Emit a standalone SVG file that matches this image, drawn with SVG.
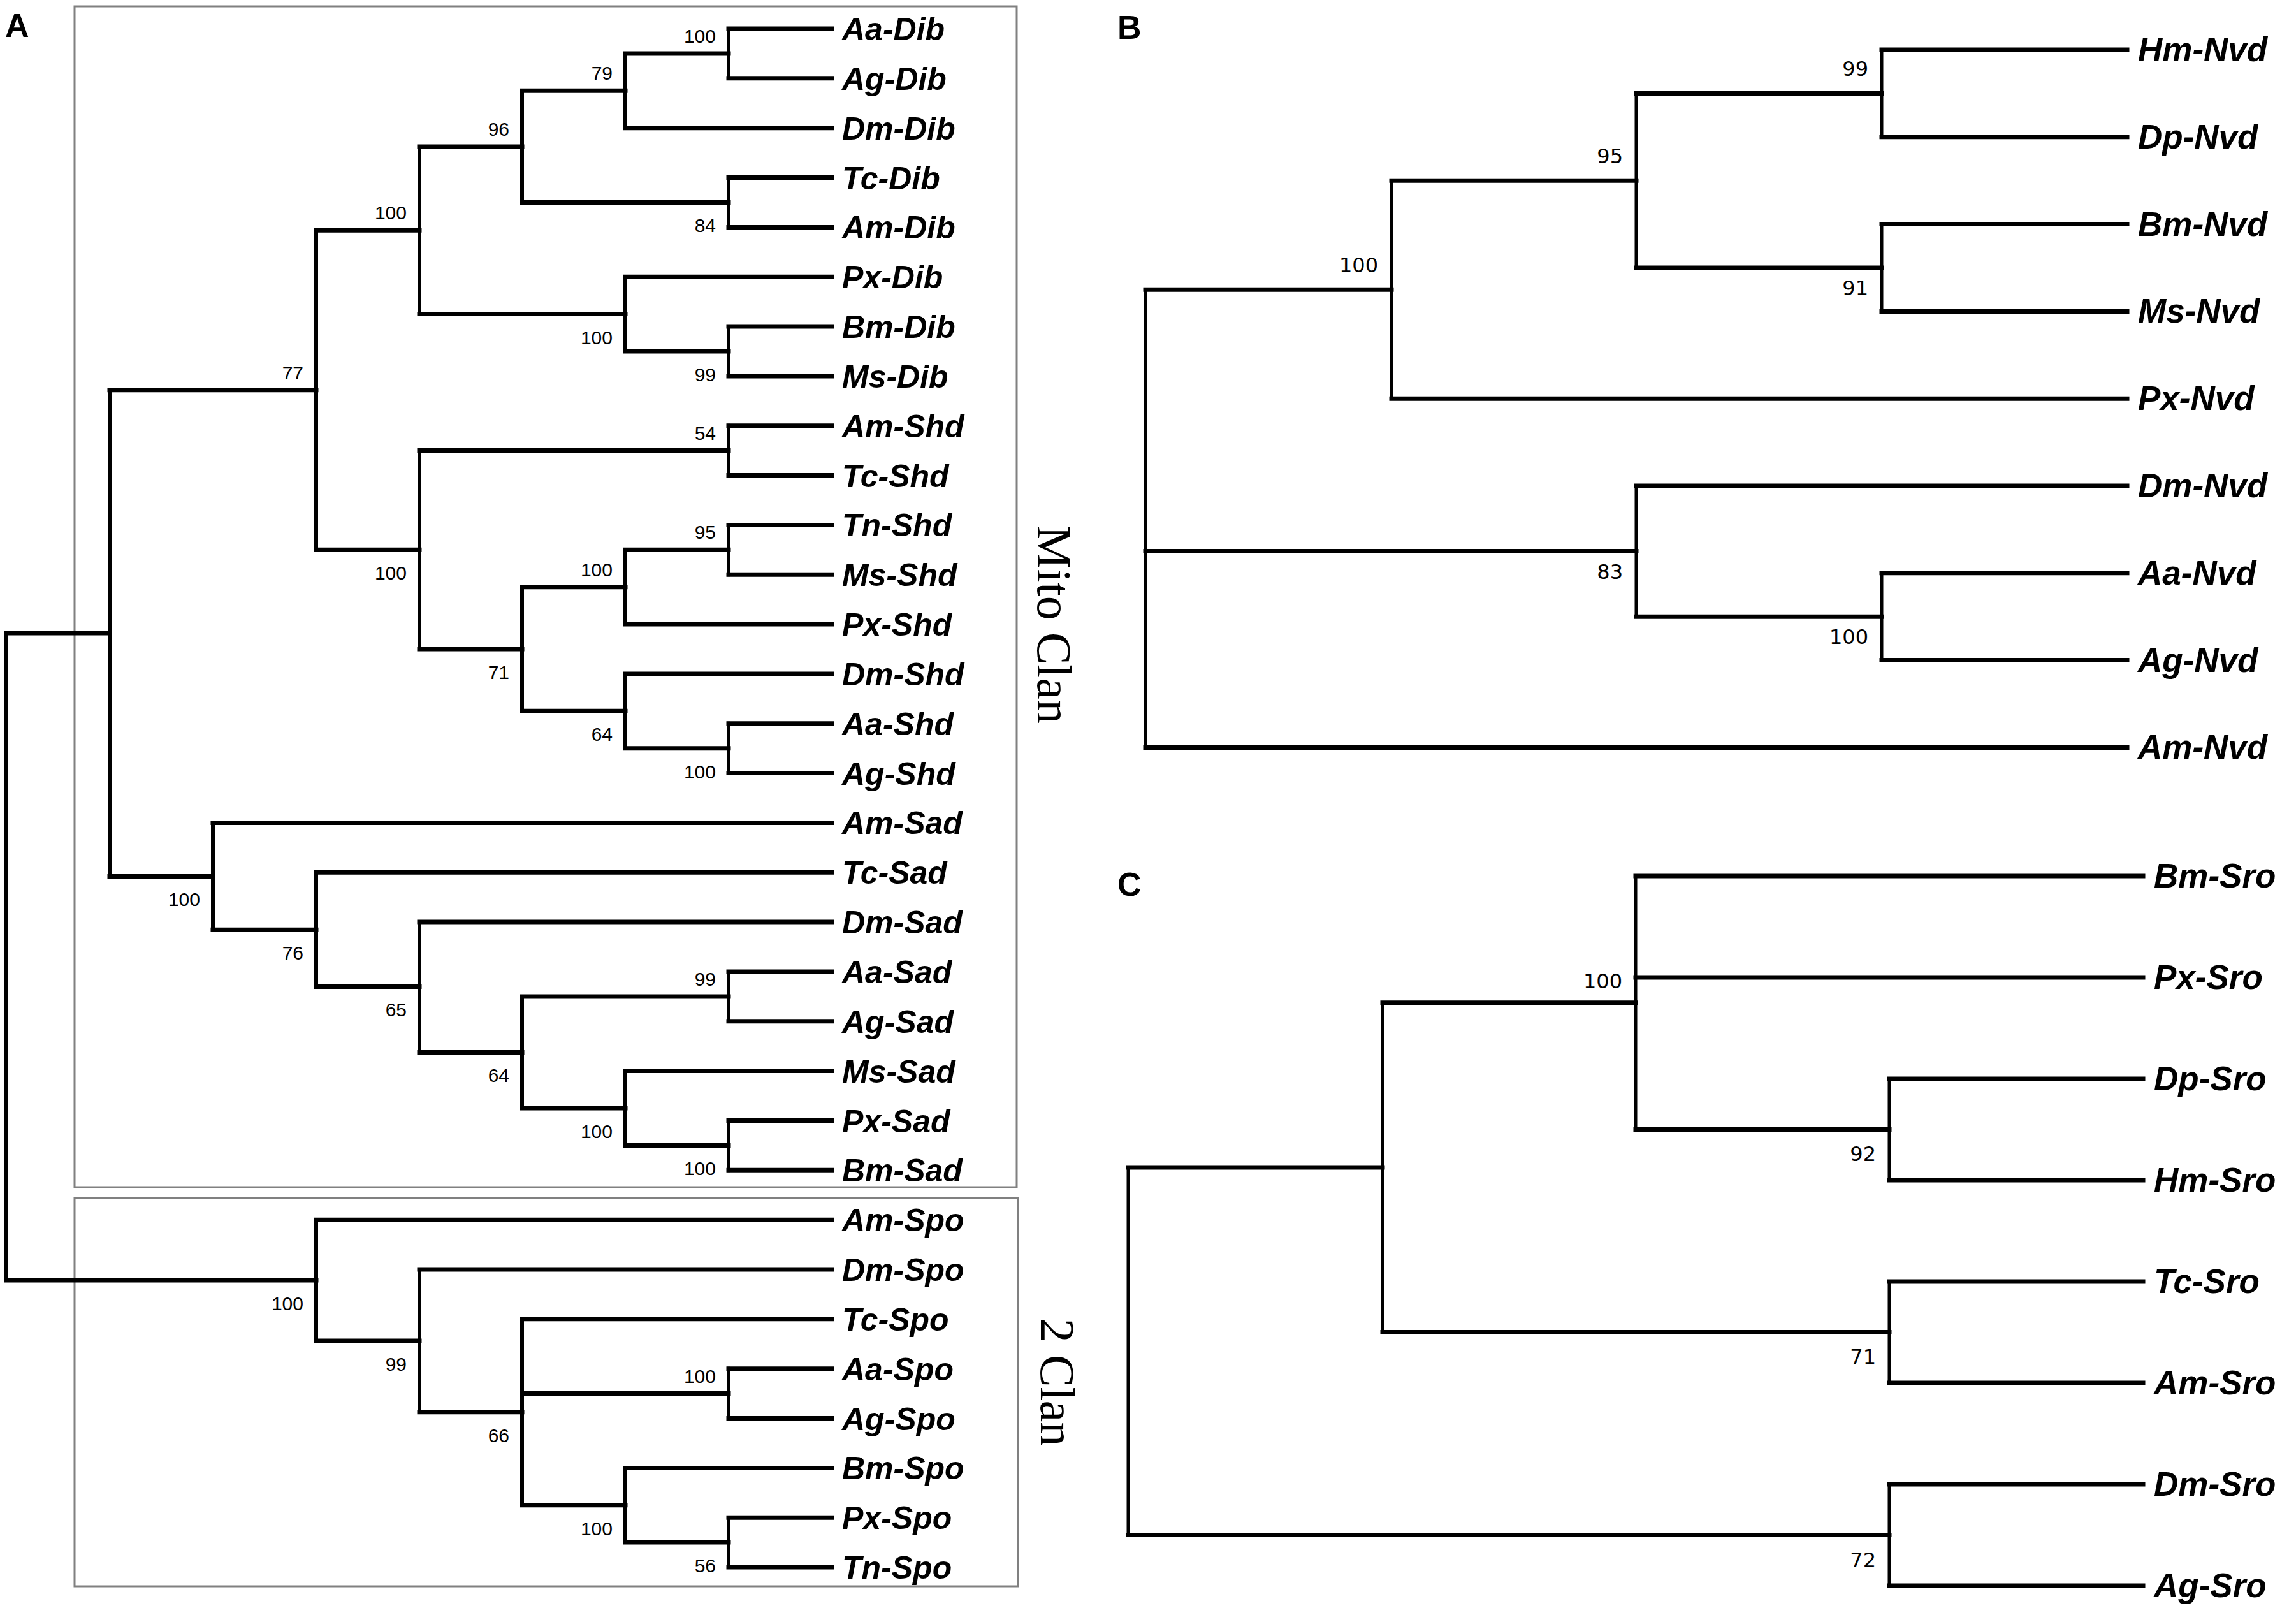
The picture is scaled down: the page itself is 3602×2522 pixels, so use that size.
<svg xmlns="http://www.w3.org/2000/svg" width="3602" height="2522" viewBox="0 0 3602 2522">
<style>
.e{stroke:#000;stroke-width:7;fill:none;stroke-linecap:square}
.va{stroke:#000;stroke-width:6;fill:none;stroke-linecap:square}
.v2{stroke:#000;stroke-width:5;fill:none;stroke-linecap:square}
.box{fill:none;stroke:#808080;stroke-width:3}
.lf{font-family:"Liberation Sans",Arial,sans-serif;font-weight:bold;font-style:italic;font-size:50px;fill:#000}
.lf2{font-family:"Liberation Sans",Arial,sans-serif;font-weight:bold;font-style:italic;font-size:53px;fill:#000}
.bs{font-family:"Liberation Sans",Arial,sans-serif;font-size:30px;text-anchor:end;fill:#000}
.bs2{font-family:"DejaVu Sans",Verdana,sans-serif;font-size:32px;text-anchor:end;fill:#000}
.clan{font-family:"Liberation Serif","Times New Roman",serif;font-size:76px;fill:#000;text-anchor:middle}
.pl{font-family:"Liberation Sans",Arial,sans-serif;font-weight:bold;font-size:52px;fill:#000}
</style>
<rect width="3602" height="2522" fill="#fff"/>
<g id="panel-letters">
<text class="pl" x="8" y="58">A</text>
<text class="pl" x="1753" y="61">B</text>
<text class="pl" x="1753" y="1405">C</text>
</g>
<g id="clan-boxes">
<rect class="box" x="117" y="10" width="1478" height="1852"/>
<rect class="box" x="117" y="1879" width="1480" height="609"/>
<text class="clan" transform="translate(1628,980) rotate(90)">Mito Clan</text>
<text class="clan" transform="translate(1633,2168) rotate(90)">2 Clan</text>
</g>
<g id="connectors">
<path class="va" d="M10 993.1V2008M172 611.8V1374.4M496 361.2V862.3M658 229.9V492.6M819 142.3V317.4M981 83.9V200.7M1143 45V122.8M1143 278.5V356.4M981 434.2V551M1143 512V589.9M658 706.6V1018M1143 667.7V745.6M819 920.7V1115.3M981 862.3V979.1M1143 823.4V901.2M981 1056.9V1173.7M1143 1134.8V1212.6M334 1290.4V1458.3M496 1368.3V1547.4M658 1446.1V1650.5M819 1562.9V1738M1143 1524V1601.8M981 1679.6V1796.4M1143 1757.5V1835.3M496 1913.2V2102.9M658 1991V2214.8M819 2068.8V2360.7M1143 2146.7V2224.5M981 2302.4V2419.1M1143 2380.2V2458"/>
<path class="e" d="M10 993.1H172M10 2008H496M172 611.8H496M172 1374.4H334M496 361.2H658M496 862.3H658M658 229.9H819M658 492.6H981M819 142.3H981M819 317.4H1143M981 83.9H1143M981 200.7H1305M1143 45H1305M1143 122.8H1305M1143 278.5H1305M1143 356.4H1305M981 434.2H1305M981 551H1143M1143 512H1305M1143 589.9H1305M658 706.6H1143M658 1018H819M1143 667.7H1305M1143 745.6H1305M819 920.7H981M819 1115.3H981M981 862.3H1143M981 979.1H1305M1143 823.4H1305M1143 901.2H1305M981 1056.9H1305M981 1173.7H1143M1143 1134.8H1305M1143 1212.6H1305M334 1290.4H1305M334 1458.3H496M496 1368.3H1305M496 1547.4H658M658 1446.1H1305M658 1650.5H819M819 1562.9H1143M819 1738H981M1143 1524H1305M1143 1601.8H1305M981 1679.6H1305M981 1796.4H1143M1143 1757.5H1305M1143 1835.3H1305M496 1913.2H1305M496 2102.9H658M658 1991H1305M658 2214.8H819M819 2068.8H1305M819 2185.6H1143M819 2360.7H981M1143 2146.7H1305M1143 2224.5H1305M981 2302.4H1305M981 2419.1H1143M1143 2380.2H1305M1143 2458H1305"/>
<path class="v2" d="M1797 454.2V1172.4M2183 283.2V625.2M2567 146.4V420M2952 78V214.8M2952 351.6V488.4M2567 762V967.2M2952 898.8V1035.6"/>
<path class="e" d="M1797 454.2H2183M1797 864.6H2567M1797 1172.4H3337M2183 283.2H2567M2183 625.2H3337M2567 146.4H2952M2567 420H2952M2952 78H3337M2952 214.8H3337M2952 351.6H3337M2952 488.4H3337M2567 762H3337M2567 967.2H2952M2952 898.8H3337M2952 1035.6H3337"/>
<path class="v2" d="M1770 1831.1V2407.5M2169 1572.75V2089.5M2566 1374V1771.5M2964 1692V1851M2964 2010V2169M2964 2328V2487"/>
<path class="e" d="M1770 1831.1H2169M1770 2407.5H2964M2169 1572.75H2566M2169 2089.5H2964M2566 1374H3362M2566 1533H3362M2566 1771.5H2964M2964 1692H3362M2964 1851H3362M2964 2010H3362M2964 2169H3362M2964 2328H3362M2964 2487H3362"/>
</g>
<g id="tree-A-leaves">
<g id="Aa-Dib"><text class="lf" x="1321" y="63">Aa-Dib</text></g>
<g id="Ag-Dib"><text class="lf" x="1321" y="140.8">Ag-Dib</text></g>
<g id="Dm-Dib"><text class="lf" x="1321" y="218.7">Dm-Dib</text></g>
<g id="Tc-Dib"><text class="lf" x="1321" y="296.5">Tc-Dib</text></g>
<g id="Am-Dib"><text class="lf" x="1321" y="374.4">Am-Dib</text></g>
<g id="Px-Dib"><text class="lf" x="1321" y="452.2">Px-Dib</text></g>
<g id="Bm-Dib"><text class="lf" x="1321" y="530">Bm-Dib</text></g>
<g id="Ms-Dib"><text class="lf" x="1321" y="607.9">Ms-Dib</text></g>
<g id="Am-Shd"><text class="lf" x="1321" y="685.7">Am-Shd</text></g>
<g id="Tc-Shd"><text class="lf" x="1321" y="763.6">Tc-Shd</text></g>
<g id="Tn-Shd"><text class="lf" x="1321" y="841.4">Tn-Shd</text></g>
<g id="Ms-Shd"><text class="lf" x="1321" y="919.2">Ms-Shd</text></g>
<g id="Px-Shd"><text class="lf" x="1321" y="997.1">Px-Shd</text></g>
<g id="Dm-Shd"><text class="lf" x="1321" y="1074.9">Dm-Shd</text></g>
<g id="Aa-Shd"><text class="lf" x="1321" y="1152.8">Aa-Shd</text></g>
<g id="Ag-Shd"><text class="lf" x="1321" y="1230.6">Ag-Shd</text></g>
<g id="Am-Sad"><text class="lf" x="1321" y="1308.4">Am-Sad</text></g>
<g id="Tc-Sad"><text class="lf" x="1321" y="1386.3">Tc-Sad</text></g>
<g id="Dm-Sad"><text class="lf" x="1321" y="1464.1">Dm-Sad</text></g>
<g id="Aa-Sad"><text class="lf" x="1321" y="1542">Aa-Sad</text></g>
<g id="Ag-Sad"><text class="lf" x="1321" y="1619.8">Ag-Sad</text></g>
<g id="Ms-Sad"><text class="lf" x="1321" y="1697.6">Ms-Sad</text></g>
<g id="Px-Sad"><text class="lf" x="1321" y="1775.5">Px-Sad</text></g>
<g id="Bm-Sad"><text class="lf" x="1321" y="1853.3">Bm-Sad</text></g>
<g id="Am-Spo"><text class="lf" x="1321" y="1931.2">Am-Spo</text></g>
<g id="Dm-Spo"><text class="lf" x="1321" y="2009">Dm-Spo</text></g>
<g id="Tc-Spo"><text class="lf" x="1321" y="2086.8">Tc-Spo</text></g>
<g id="Aa-Spo"><text class="lf" x="1321" y="2164.7">Aa-Spo</text></g>
<g id="Ag-Spo"><text class="lf" x="1321" y="2242.5">Ag-Spo</text></g>
<g id="Bm-Spo"><text class="lf" x="1321" y="2320.4">Bm-Spo</text></g>
<g id="Px-Spo"><text class="lf" x="1321" y="2398.2">Px-Spo</text></g>
<g id="Tn-Spo"><text class="lf" x="1321" y="2476">Tn-Spo</text></g>
</g>
<g id="tree-A-nodes">
<g id="A-n1"><text class="bs" x="1123" y="67">100</text></g>
<g id="A-n2"><text class="bs" x="961" y="125">79</text></g>
<g id="A-n3"><text class="bs" x="1123" y="364">84</text></g>
<g id="A-n4"><text class="bs" x="799" y="213">96</text></g>
<g id="A-n5"><text class="bs" x="1123" y="598">99</text></g>
<g id="A-n6"><text class="bs" x="961" y="540">100</text></g>
<g id="A-n7"><text class="bs" x="638" y="344">100</text></g>
<g id="A-n8"><text class="bs" x="476" y="595">77</text></g>
<g id="A-n9"><text class="bs" x="1123" y="690">54</text></g>
<g id="A-n10"><text class="bs" x="1123" y="845">95</text></g>
<g id="A-n11"><text class="bs" x="961" y="904">100</text></g>
<g id="A-n12"><text class="bs" x="1123" y="1221">100</text></g>
<g id="A-n13"><text class="bs" x="961" y="1162">64</text></g>
<g id="A-n14"><text class="bs" x="799" y="1065">71</text></g>
<g id="A-n15"><text class="bs" x="638" y="909">100</text></g>
<g id="A-n16"><text class="bs" x="1123" y="1546">99</text></g>
<g id="A-n17"><text class="bs" x="1123" y="1843">100</text></g>
<g id="A-n18"><text class="bs" x="961" y="1785">100</text></g>
<g id="A-n19"><text class="bs" x="799" y="1697">64</text></g>
<g id="A-n20"><text class="bs" x="638" y="1594">65</text></g>
<g id="A-n21"><text class="bs" x="476" y="1505">76</text></g>
<g id="A-n22"><text class="bs" x="314" y="1421">100</text></g>
<g id="A-n23"><text class="bs" x="1123" y="2169">100</text></g>
<g id="A-n24"><text class="bs" x="1123" y="2466">56</text></g>
<g id="A-n25"><text class="bs" x="961" y="2408">100</text></g>
<g id="A-n26"><text class="bs" x="799" y="2262">66</text></g>
<g id="A-n27"><text class="bs" x="638" y="2150">99</text></g>
<g id="A-n28"><text class="bs" x="476" y="2055">100</text></g>
</g>
<g id="tree-B-leaves">
<g id="Hm-Nvd"><text class="lf2" x="3354" y="96">Hm-Nvd</text></g>
<g id="Dp-Nvd"><text class="lf2" x="3354" y="232.8">Dp-Nvd</text></g>
<g id="Bm-Nvd"><text class="lf2" x="3354" y="369.6">Bm-Nvd</text></g>
<g id="Ms-Nvd"><text class="lf2" x="3354" y="506.4">Ms-Nvd</text></g>
<g id="Px-Nvd"><text class="lf2" x="3354" y="643.2">Px-Nvd</text></g>
<g id="Dm-Nvd"><text class="lf2" x="3354" y="780">Dm-Nvd</text></g>
<g id="Aa-Nvd"><text class="lf2" x="3354" y="916.8">Aa-Nvd</text></g>
<g id="Ag-Nvd"><text class="lf2" x="3354" y="1053.6">Ag-Nvd</text></g>
<g id="Am-Nvd"><text class="lf2" x="3354" y="1190.4">Am-Nvd</text></g>
</g>
<g id="tree-B-nodes">
<g id="B-n1"><text class="bs2" x="2931" y="119">99</text></g>
<g id="B-n2"><text class="bs2" x="2931" y="463">91</text></g>
<g id="B-n3"><text class="bs2" x="2546" y="256">95</text></g>
<g id="B-n4"><text class="bs2" x="2162" y="427">100</text></g>
<g id="B-n5"><text class="bs2" x="2931" y="1010">100</text></g>
<g id="B-n6"><text class="bs2" x="2546" y="908">83</text></g>
</g>
<g id="tree-C-leaves">
<g id="Bm-Sro"><text class="lf2" x="3379" y="1392">Bm-Sro</text></g>
<g id="Px-Sro"><text class="lf2" x="3379" y="1551">Px-Sro</text></g>
<g id="Dp-Sro"><text class="lf2" x="3379" y="1710">Dp-Sro</text></g>
<g id="Hm-Sro"><text class="lf2" x="3379" y="1869">Hm-Sro</text></g>
<g id="Tc-Sro"><text class="lf2" x="3379" y="2028">Tc-Sro</text></g>
<g id="Am-Sro"><text class="lf2" x="3379" y="2187">Am-Sro</text></g>
<g id="Dm-Sro"><text class="lf2" x="3379" y="2346">Dm-Sro</text></g>
<g id="Ag-Sro"><text class="lf2" x="3379" y="2505">Ag-Sro</text></g>
</g>
<g id="tree-C-nodes">
<g id="C-n1"><text class="bs2" x="2943" y="1821">92</text></g>
<g id="C-n2"><text class="bs2" x="2545" y="1550">100</text></g>
<g id="C-n3"><text class="bs2" x="2943" y="2139">71</text></g>
<g id="C-n4"><text class="bs2" x="2943" y="2458">72</text></g>
</g>
</svg>
